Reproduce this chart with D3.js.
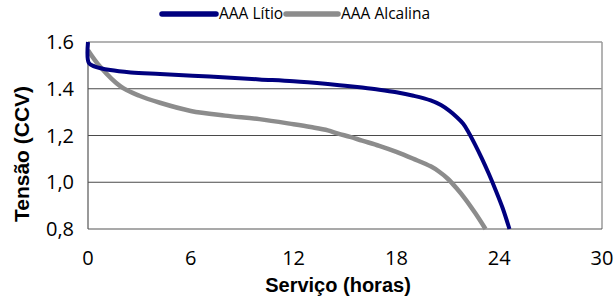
<!DOCTYPE html>
<html><head><meta charset="utf-8">
<script src="https://cdn.jsdelivr.net/npm/d3@7"></script>
<style>body{margin:0;background:#fff}svg{display:block}</style>
</head><body>
<svg id="c" width="614" height="300"></svg>
<script>
const seriesNames = ["AAA Lítio", "AAA Alcalina"];
const seriesColors = ["#00007f", "#8c8c8c"];
const xTicks = [0, 6, 12, 18, 24, 30];
const yTicks = [0.8, 1.0, 1.2, 1.4, 1.6];
const yTickLabels = ["0,8", "1,0", "1,2", "1.4", "1.6"];
const lithiumHours = [0, 0.05, 0.4, 1.3, 2.5, 4.2, 7.1, 10, 12, 14, 15, 16, 17, 18, 19, 20, 20.6, 21.1, 21.5, 21.9, 22.2, 22.6, 23.0, 23.4, 23.8, 24.2, 24.6];
const lithiumVolts = [1.60, 1.51, 1.495, 1.48, 1.47, 1.463, 1.452, 1.44, 1.432, 1.42, 1.413, 1.405, 1.396, 1.385, 1.37, 1.35, 1.33, 1.305, 1.28, 1.25, 1.215, 1.16, 1.10, 1.035, 0.965, 0.89, 0.8];
const alkalineHours = [0, 0.7, 1.9, 3, 4.2, 6, 8, 10, 12, 13, 14, 14.6, 15.3, 16, 17, 18, 19, 20, 20.5, 21, 21.5, 22, 22.6, 23.2];
const alkalineVolts = [1.565, 1.495, 1.41, 1.37, 1.34, 1.305, 1.285, 1.27, 1.248, 1.236, 1.222, 1.208, 1.194, 1.178, 1.156, 1.13, 1.10, 1.068, 1.045, 1.015, 0.975, 0.93, 0.868, 0.8];

const svg = d3.select("#c");
const L = 88, R = 602, T = 42, B = 229;
const x = d3.scaleLinear().domain([0, 30]).range([L, R]);
const y = d3.scaleLinear().domain([0.8, 1.6]).range([B, T]);

// gridlines
svg.append("g").selectAll("line").data([1.0, 1.2, 1.4]).join("line")
  .attr("x1", L).attr("x2", R).attr("y1", d => y(d)).attr("y2", d => y(d))
  .attr("stroke", "#4a4a4a").attr("stroke-width", 1.2);
// frame
svg.append("line").attr("x1", L).attr("x2", R).attr("y1", T).attr("y2", T).attr("stroke", "#9a9a9a").attr("stroke-width", 1.5);
svg.append("line").attr("x1", R).attr("x2", R).attr("y1", T).attr("y2", B).attr("stroke", "#9a9a9a").attr("stroke-width", 1.5);
svg.append("line").attr("x1", L).attr("x2", L).attr("y1", T).attr("y2", B).attr("stroke", "#555").attr("stroke-width", 1.2);
svg.append("line").attr("x1", L).attr("x2", R).attr("y1", B).attr("y2", B).attr("stroke", "#555").attr("stroke-width", 1.2);

const line = d3.line().x(d => x(d[0])).y(d => y(d[1])).curve(d3.curveCatmullRom.alpha(0.5));
const alk = alkalineHours.map((h, i) => [h, alkalineVolts[i]]);
const lit = lithiumHours.map((h, i) => [h, lithiumVolts[i]]);
svg.append("path").attr("d", line(alk)).attr("fill", "none").attr("stroke", seriesColors[1]).attr("stroke-width", 4.5).attr("stroke-linecap", "butt");
svg.append("path").attr("d", line(lit)).attr("fill", "none").attr("stroke", seriesColors[0]).attr("stroke-width", 4).attr("stroke-linecap", "butt");

// y tick labels
svg.append("g").selectAll("text").data(yTicks).join("text")
  .attr("x", 74).attr("y", d => y(d)).attr("dy", "0.35em").attr("text-anchor", "end")
  .attr("font-family", "Open Sans, sans-serif").attr("font-size", 20).attr("fill", "#000")
  .text((d, i) => yTickLabels[i]);
// x tick labels
svg.append("g").selectAll("text").data(xTicks).join("text")
  .attr("x", d => x(d)).attr("y", 265).attr("text-anchor", "middle")
  .attr("font-family", "Open Sans, sans-serif").attr("font-size", 20).attr("fill", "#000")
  .text(d => d);

// axis titles
svg.append("text").attr("x", 338).attr("y", 292).attr("text-anchor", "middle")
  .attr("font-family", "Liberation Sans, Arial, sans-serif").attr("font-weight", "bold").attr("font-size", 20)
  .text("Serviço (horas)");
svg.append("text").attr("transform", "translate(29,154) rotate(-90)").attr("text-anchor", "middle")
  .attr("font-family", "Liberation Sans, Arial, sans-serif").attr("font-weight", "bold").attr("font-size", 21)
  .text("Tensão (CCV)");

// legend
const leg = [{x0: 162, x1: 216, tx: 219}, {x0: 286, x1: 338, tx: 341}];
seriesNames.forEach((n, i) => {
  svg.append("line").attr("x1", leg[i].x0).attr("x2", leg[i].x1).attr("y1", 14).attr("y2", 14)
    .attr("stroke", seriesColors[i]).attr("stroke-width", 5.5).attr("stroke-linecap", "round");
  svg.append("text").attr("x", leg[i].tx).attr("y", 14).attr("dy", "0.35em")
    .attr("font-family", "Open Sans, sans-serif").attr("font-size", 15.5).text(n);
});
</script>
</body></html>
